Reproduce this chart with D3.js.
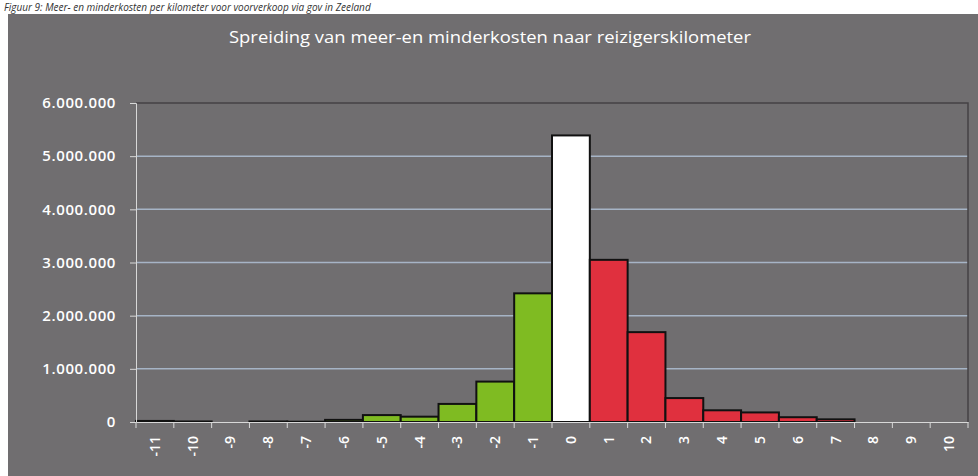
<!DOCTYPE html>
<html>
<head>
<meta charset="utf-8">
<script src="https://cdn.jsdelivr.net/npm/d3@7"></script>
<style>
  body { margin: 0; background: #ffffff; }
  svg { display: block; }
</style>
</head>
<body>
<div id="chart"></div>
<script>
// Spreiding van meer-en minderkosten naar reizigerskilometer
var Categories = [-11, -10, -9, -8, -7, -6, -5, -4, -3, -2, -1, 0, 1, 2, 3, 4, 5, 6, 7, 8, 9, 10];
var Values = [20000, 10000, 0, 10000, 5000, 40000, 130000, 100000, 340000, 760000, 2420000,
              5390000, 3050000, 1690000, 450000, 220000, 180000, 90000, 50000, 0, 0, 0];
var YTicks = [0, 1000000, 2000000, 3000000, 4000000, 5000000, 6000000];
var Title = "Spreiding van meer-en minderkosten naar reizigerskilometer";
var Caption = "Figuur 9: Meer- en minderkosten per kilometer voor voorverkoop via gov in Zeeland";

var Width = 978, Height = 476;
var Plot = { left: 136, right: 968, top: 103, bottom: 422 };

var Canvas = d3.select("#chart").append("svg")
    .attr("width", Width)
    .attr("height", Height);

// caption above the chart
Canvas.append("text")
    .attr("x", 4).attr("y", 11)
    .attr("font-family", "Open Sans, sans-serif")
    .attr("font-style", "italic")
    .attr("font-size", 10)
    .attr("fill", "#333")
    .text(Caption);

// gray chart area
Canvas.append("rect")
    .attr("x", 8).attr("y", 14)
    .attr("width", Width - 8).attr("height", Height - 14)
    .attr("fill", "#706e70");

Canvas.append("text")
    .attr("x", 490).attr("y", 43)
    .attr("text-anchor", "middle")
    .attr("font-family", "Open Sans, sans-serif")
    .attr("font-size", 17)
    .attr("fill", "#ffffff")
    .attr("textLength", 522)
    .attr("lengthAdjust", "spacingAndGlyphs")
    .text(Title);

var XScale = d3.scaleBand()
    .domain(Categories)
    .range([Plot.left, Plot.right])
    .padding(0);

var YScale = d3.scaleLinear()
    .domain([0, 6000000])
    .range([Plot.bottom, Plot.top]);

var fmt = function (v) { return d3.format(",")(v).replace(/,/g, "."); };

// gridlines
Canvas.append("g")
    .selectAll("line")
    .data(YTicks.filter(function (t) { return t > 0 && t < 6000000; }))
    .enter()
    .append("line")
    .attr("x1", Plot.left).attr("x2", Plot.right)
    .attr("y1", function (d) { return YScale(d); })
    .attr("y2", function (d) { return YScale(d); })
    .attr("stroke", "#a6b4c6")
    .attr("stroke-width", 1.5);

// plot border: dark top and right
Canvas.append("path")
    .attr("d", "M" + Plot.left + "," + Plot.top + "H" + Plot.right + "V" + Plot.bottom)
    .attr("fill", "none")
    .attr("stroke", "#444244")
    .attr("stroke-width", 1.5);

// bars
Canvas.append("g")
    .selectAll("rect")
    .data(Categories)
    .enter()
    .append("rect")
    .attr("x", function (d) { return XScale(d); })
    .attr("y", function (d, i) { return YScale(Values[i]); })
    .attr("width", XScale.bandwidth())
    .attr("height", function (d, i) { return YScale(0) - YScale(Values[i]); })
    .attr("fill", function (d) { return d < 0 ? "#7fbb22" : (d > 0 ? "#e0303e" : "#ffffff"); })
    .attr("stroke", "#111")
    .attr("stroke-width", 2);

// y axis
var YAxis = d3.axisLeft(YScale)
    .tickValues(YTicks)
    .tickFormat(fmt)
    .tickSize(6)
    .tickPadding(14);

var yg = Canvas.append("g")
    .attr("transform", "translate(" + Plot.left + ",0)")
    .call(YAxis);
yg.select(".domain").attr("stroke", "#d8d8d8");
yg.selectAll(".tick line").attr("stroke", "#d8d8d8");
yg.selectAll(".tick text")
    .attr("fill", "#ffffff")
    .attr("font-family", "Open Sans, sans-serif")
    .attr("font-size", 15)
    .attr("font-weight", 600)
    .attr("letter-spacing", 0.6);

// x axis
var XAxis = d3.axisBottom(XScale)
    .tickSize(0)
    .tickPadding(0);

var xg = Canvas.append("g")
    .attr("transform", "translate(0," + Plot.bottom + ")")
    .call(XAxis);
xg.select(".domain").attr("stroke", "#d8d8d8");
xg.selectAll(".tick text")
    .attr("fill", "#ffffff")
    .attr("font-family", "Open Sans, sans-serif")
    .attr("font-size", 14)
    .attr("font-weight", 600)
    .attr("text-anchor", "end")
    .attr("dy", "0.35em")
    .attr("transform", "translate(0,14) rotate(-90)")
    .attr("x", 0).attr("y", 0);

// tick marks at band edges
xg.append("g")
    .selectAll("line")
    .data(Categories.concat(["end"]))
    .enter()
    .append("line")
    .attr("x1", function (d) { return d === "end" ? Plot.right : XScale(d); })
    .attr("x2", function (d) { return d === "end" ? Plot.right : XScale(d); })
    .attr("y1", 0).attr("y2", 6)
    .attr("stroke", "#d8d8d8");
</script>
</body>
</html>
